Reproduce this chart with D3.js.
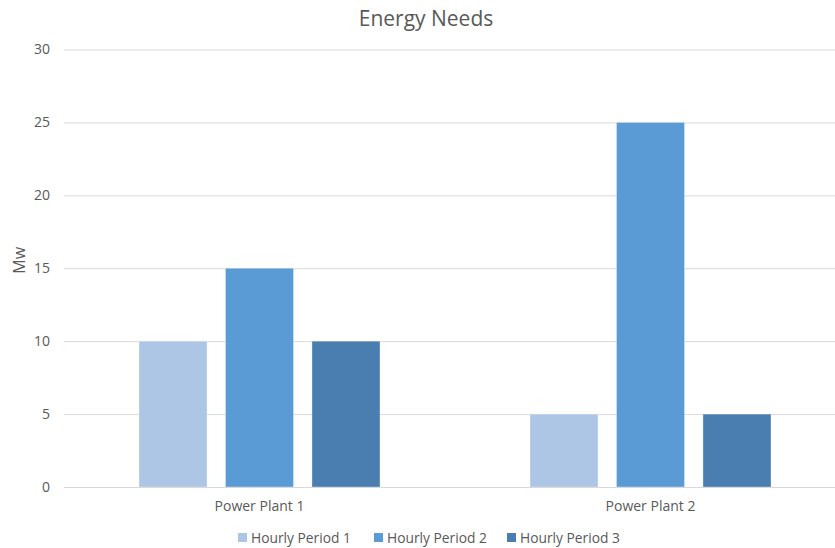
<!DOCTYPE html>
<html>
<head>
<meta charset="utf-8">
<script src="https://cdn.jsdelivr.net/npm/d3@7"></script>
<style>
  html, body { margin: 0; padding: 0; background: #fff; }
  svg { display: block; font-family: "Open Sans", "Noto Sans", sans-serif; }
</style>
</head>
<body>
<svg id="chart" width="835" height="548"></svg>
<script>
const categories = ["Power Plant 1", "Power Plant 2"];
const seriesNames = ["Hourly Period 1", "Hourly Period 2", "Hourly Period 3"];
const period1 = [10, 5];
const period2 = [15, 25];
const period3 = [10, 5];
const yTicks = [0, 5, 10, 15, 20, 25, 30];
const colors = ["#adc6e6", "#5b9bd5", "#4a7eb0"];

const seriesValues = [period1, period2, period3];

const svg = d3.select("#chart");
const plot = { left: 64, right: 846, top: 49.5, bottom: 487 };
const textColor = "#595959";
const gridColor = "#d9d9d9";

const x0 = d3.scaleBand().domain(categories).range([plot.left, plot.right]).paddingInner(0).paddingOuter(0);
const x1 = d3.scaleBand().domain(seriesNames).range([75, 316]).paddingInner(0.213).paddingOuter(0);
const y = d3.scaleLinear().domain([0, 30]).range([plot.bottom, plot.top]);

// Horizontal gridlines with value labels
const yAxis = d3.axisLeft(y).tickValues(yTicks).tickSize(-(plot.right - plot.left)).tickPadding(14);
const gy = svg.append("g").attr("transform", `translate(${plot.left},0)`).call(yAxis);
gy.select(".domain").remove();
gy.selectAll(".tick line").attr("stroke", gridColor).attr("stroke-width", 1);
gy.selectAll(".tick text").attr("fill", textColor).style("font-size", "14px").attr("font-family", "Open Sans");

// Bars
const groups = svg.append("g").selectAll("g")
  .data(categories)
  .join("g")
  .attr("transform", d => `translate(${x0(d)},0)`);

groups.selectAll("rect")
  .data((c, ci) => seriesNames.map((s, si) => ({ s, si, v: seriesValues[si][ci] })))
  .join("rect")
  .attr("x", d => x1(d.s))
  .attr("width", x1.bandwidth())
  .attr("y", d => y(d.v))
  .attr("height", d => y(0) - y(d.v))
  .attr("fill", d => colors[d.si])
  .attr("stroke", "#ffffff")
  .attr("stroke-opacity", 0.35)
  .attr("stroke-width", 1);

// Category axis
const xAxis = d3.axisBottom(x0).tickSize(0).tickPadding(14);
const gx = svg.append("g").attr("transform", `translate(0,${plot.bottom})`).call(xAxis);
gx.select(".domain").attr("stroke", gridColor).attr("d", `M${plot.left},0.5H${plot.right}`);
gx.selectAll(".tick text").attr("fill", textColor).style("font-size", "14px").attr("font-family", "Open Sans");

// Title
svg.append("text")
  .attr("x", 426).attr("y", 26)
  .attr("text-anchor", "middle")
  .attr("fill", textColor)
  .style("font-size", "21px")
  .text("Energy Needs");

// Y-axis title
svg.append("text")
  .attr("transform", `translate(25,${(plot.top + plot.bottom) / 2 - 8}) rotate(-90)`)
  .attr("text-anchor", "middle")
  .attr("fill", textColor)
  .style("font-size", "16px")
  .text("Mw");

// Legend
const legend = svg.append("g");
const itemStarts = [238, 374, 507];
seriesNames.forEach((name, i) => {
  const g = legend.append("g").attr("transform", `translate(${itemStarts[i]},538)`);
  g.append("rect").attr("x", 0).attr("y", -5).attr("width", 9).attr("height", 9).attr("fill", colors[i]);
  g.append("text").attr("x", 13).attr("y", 5).attr("fill", textColor).style("font-size", "13.8px").text(name);
});
</script>
</body>
</html>
